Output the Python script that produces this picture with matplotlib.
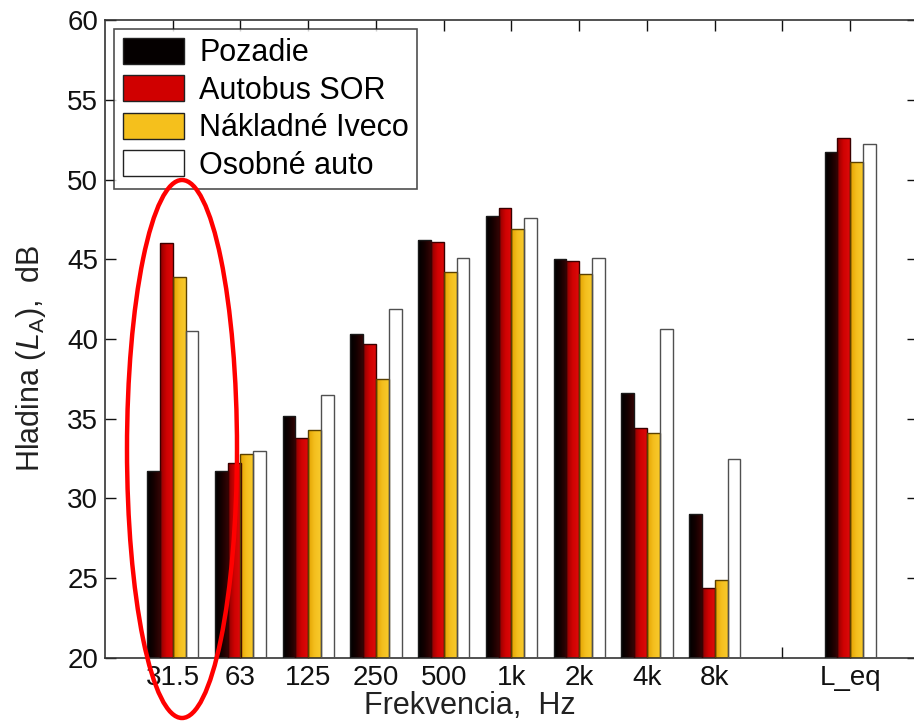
import numpy as np
import matplotlib
matplotlib.use("Agg")
import matplotlib.pyplot as plt
from matplotlib.colors import LinearSegmentedColormap
from matplotlib.patches import Patch, Ellipse

plt.rcParams['font.family'] = ['Liberation Sans', 'DejaVu Sans']
plt.rcParams['mathtext.fontset'] = 'custom'
plt.rcParams['mathtext.rm'] = 'Liberation Sans'
plt.rcParams['mathtext.it'] = 'Liberation Sans:italic'

categories = ['31.5', '63', '125', '250', '500', '1k', '2k', '4k', '8k', 'L_eq']
positions = [1, 2, 3, 4, 5, 6, 7, 8, 9, 11]
series_names = ['Pozadie', 'Autobus SOR', 'Nákladné Iveco', 'Osobné auto']
pozadie = [31.7, 31.7, 35.2, 40.3, 46.2, 47.7, 45.0, 36.6, 29.0, 51.7]
autobus = [46.0, 32.2, 33.8, 39.7, 46.1, 48.2, 44.9, 34.4, 24.4, 52.6]
iveco = [43.9, 32.8, 34.3, 37.5, 44.2, 46.9, 44.1, 34.1, 24.9, 51.1]
osobne = [40.5, 33.0, 36.5, 41.9, 45.1, 47.6, 45.1, 40.6, 32.5, 52.2]
series = [pozadie, autobus, iveco, osobne]

grads = [['#000000', '#140000', '#340404'],
         ['#8c0000', '#cf0202', '#dc0a0a'],
         ['#e2a200', '#f4bf1e', '#f8ca2c'],
         ['#ffffff', '#ffffff', '#ffffff']]
solid = ['#050000', '#d00000', '#f5c01c', '#ffffff']
edges = ['#1a1a1a', '#3a0000', '#5a4000', '#505050']

fig = plt.figure(figsize=(9.14, 7.23), dpi=100)
ax = fig.add_axes([105/914, 1 - 658/723, (918 - 105)/914, 638/723])

width = 0.19
grad = np.linspace(0, 1, 64).reshape(1, -1)
base = 20
for i, vals in enumerate(series):
    xs = np.array(positions) + (i - 1.5) * width
    bars = ax.bar(xs, np.array(vals) - base, width, bottom=base,
                  facecolor='none', edgecolor=edges[i], linewidth=1.0, zorder=3)
    cmap = LinearSegmentedColormap.from_list('g%d' % i, grads[i])
    for b in bars:
        x0 = b.get_x(); x1 = x0 + b.get_width()
        y0 = b.get_y(); y1 = y0 + b.get_height()
        im = ax.imshow(grad, cmap=cmap, extent=[x0, x1, y0, y1], aspect='auto',
                       origin='lower', interpolation='bilinear', zorder=2)
        im.set_clip_path(b)

ax.set_xlim(0, 12)
ax.set_ylim(20, 60)
ax.set_aspect('auto')
ax.set_xticks(list(range(1, 12)))
ax.set_xticklabels(categories[:9] + [''] + [categories[9]])
ax.set_yticks(np.arange(20, 61, 5))
ax.tick_params(direction='in', length=8, width=1, top=True, right=True,
               labelsize=20, colors='#111111')
ax.tick_params(axis='x', pad=5)
ax.tick_params(axis='y', pad=5)
for s in ax.spines.values():
    s.set_color('#333333')
    s.set_linewidth(1.2)

ax.set_xlabel('Frekvencia,  Hz', fontsize=22, color='#222222')
ax.xaxis.set_label_coords(0.449, -0.076, transform=ax.transAxes)
ax.xaxis.label.set_va('center')
ax.set_ylabel(r'Hladina ($\mathit{L}_{\mathrm{A}}$),  dB', fontsize=22, color='#222222')
ax.yaxis.set_label_coords(-0.070, 0.47, transform=ax.transAxes)

handles = [Patch(facecolor=solid[i], edgecolor='#222222', linewidth=1.0) for i in range(4)]
leg = ax.legend(handles, series_names, loc='upper left', fontsize=22,
                frameon=True, fancybox=False, edgecolor='#222222',
                handlelength=2.0, handleheight=0.95, handletextpad=0.5,
                labelspacing=0.22, borderpad=0.28, borderaxespad=0.3)
leg.get_frame().set_linewidth(1.2)
leg.set_zorder(5)

ell = Ellipse((1.82, 2.74), 1.10, 5.38, angle=0, transform=fig.dpi_scale_trans,
              fill=False, edgecolor='#ff0000', linewidth=3.2, clip_on=False, zorder=10)
fig.add_artist(ell)

fig.savefig('out.png', dpi=100)
